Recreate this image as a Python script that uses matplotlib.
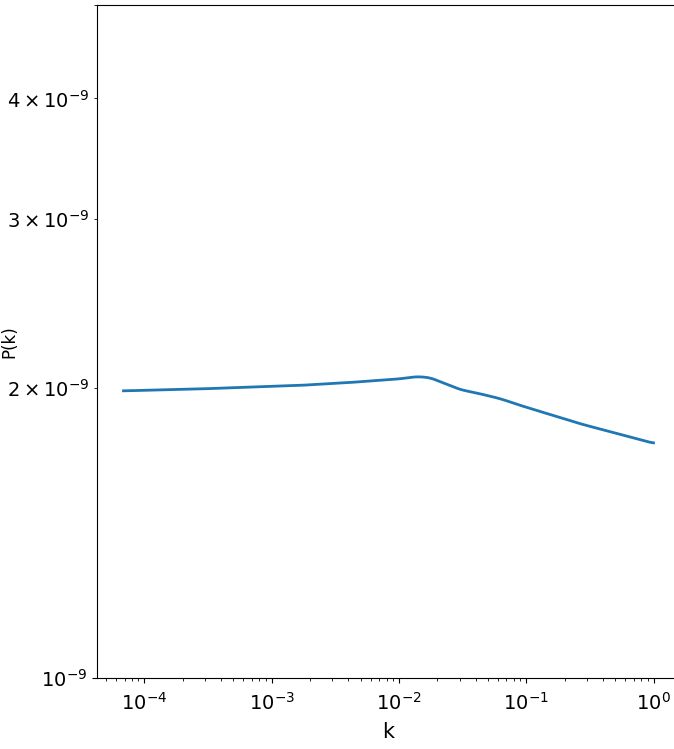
import numpy as np
import matplotlib
matplotlib.use('Agg')
import matplotlib.pyplot as plt
from matplotlib.ticker import NullFormatter

# values
k = [6.87e-5, 2.69e-4, 1.65e-3, 4.09e-3, 1.02e-2, 1.38e-2, 1.75e-2,
     2.30e-2, 3.03e-2, 4.35e-2, 6.26e-2, 9.0e-2, 0.268, 1.0]
pk = [1.988e-9, 1.997e-9, 2.014e-9, 2.028e-9, 2.046e-9, 2.057e-9, 2.052e-9,
      2.023e-9, 1.994e-9, 1.974e-9, 1.951e-9, 1.920e-9, 1.837e-9, 1.754e-9]

fig = plt.figure(figsize=(6.74, 7.49), dpi=100)
# right spine sits just past the image edge, as in the reference
ax = fig.add_axes([97 / 674, 70.7 / 749, (680 - 97) / 674, (744 - 70.7) / 749])

# smooth the read-off points in log space
lk = np.log10(k)
lp = np.log10(pk)
xs = np.linspace(lk[0], lk[-1], 400)
ys = np.interp(xs, lk, lp)
win = 9
ys_s = np.convolve(np.pad(ys, win // 2, mode='edge'), np.ones(win) / win, mode='valid')
ax.plot(10 ** xs, 10 ** ys_s, color='#1f77b4', lw=2)

ax.set_xscale('log')
ax.set_yscale('log')
ax.set_ylim(1e-9, 5e-9)
ax.xaxis.set_minor_formatter(NullFormatter())
ax.tick_params(which='both', labelsize=14)
ax.tick_params(axis='x', which='major', pad=6)
ax.set_xlabel('k', fontsize=15)
ax.xaxis.set_label_coords(0.5, -0.065)
ax.set_ylabel('P(k)', fontsize=12)
ax.yaxis.set_label_coords(-0.1355, 0.5)

fig.savefig('out.png', dpi=100)
